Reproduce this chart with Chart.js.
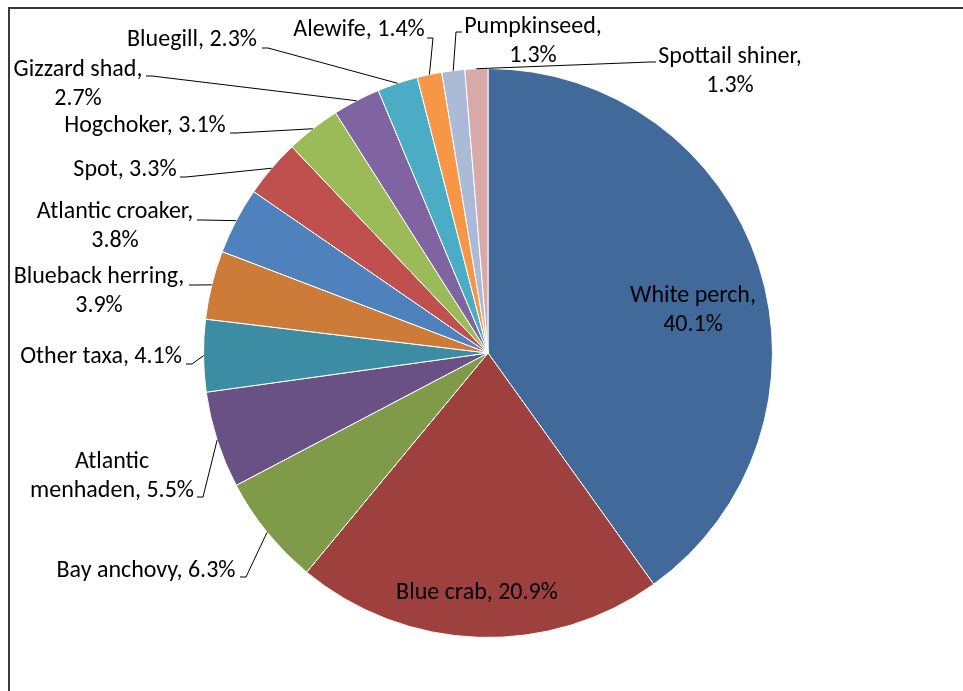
<!DOCTYPE html>
<html>
<head>
<meta charset="utf-8">
<script src="https://cdn.jsdelivr.net/npm/chart.js@4/dist/chart.umd.min.js"></script>
<style>
  html, body { margin:0; padding:0; background:#fff; }
  canvas { display:block; }
</style>
</head>
<body>
<canvas id="pie" width="963" height="691"></canvas>
<script>
// catch composition by taxon, percent of total
const taxa = ["White perch","Blue crab","Bay anchovy","Atlantic menhaden","Other taxa","Blueback herring",
  "Atlantic croaker","Spot","Hogchoker","Gizzard shad","Bluegill","Alewife","Pumpkinseed","Spottail shiner"];
const percents = [40.1, 20.9, 6.3, 5.5, 4.1, 3.9, 3.8, 3.3, 3.1, 2.7, 2.3, 1.4, 1.3, 1.3];
const sliceColors = ["#416A9B","#9D403E","#7F9A48","#695185","#3C8DA3","#CC7B38",
  "#4F81BD","#C0504D","#9BBB59","#8064A2","#4BACC6","#F79646","#AABAD7","#D9AAA9"];

// label placement: text block centre, words on first line (0 = one line), leader start (null = inside)
const labelSpots = [
  {x:693, y:310, split:2, lead:null},
  {x:477, y:593, split:0, lead:null},
  {x:146, y:571, split:0, lead:[240,577]},
  {x:112, y:476, split:1, lead:[197,497]},
  {x:101, y:357, split:0, lead:[186,364]},
  {x:99,  y:291, split:2, lead:[189,285]},
  {x:115, y:226, split:2, lead:[197,220]},
  {x:125, y:170, split:0, lead:[180,177]},
  {x:145, y:126, split:0, lead:[230,133]},
  {x:78,  y:84,  split:2, lead:[146,76]},
  {x:192, y:40,  split:0, lead:[262,48]},
  {x:359, y:30,  split:0, lead:[427,38]},
  {x:533, y:41,  split:1, lead:[462,32]},
  {x:730, y:71,  split:2, lead:[656,62]}
];

const FONT = '24px Carlito, Lato, sans-serif';
const LINE_H = 29;

const labelPlugin = {
  id: 'sliceLabels',
  beforeDraw(chart) {
    // outer frame, open at right and bottom
    const c = chart.ctx;
    c.save();
    c.strokeStyle = '#3a3a3a';
    c.lineWidth = 2;
    c.beginPath();
    c.moveTo(9, 691);
    c.lineTo(9, 8);
    c.lineTo(963, 8);
    c.stroke();
    c.restore();
  },
  afterDatasetsDraw(chart) {
    const c = chart.ctx;
    const arcs = chart.getDatasetMeta(0).data;
    c.save();
    c.font = FONT;
    c.fillStyle = '#000';
    c.textAlign = 'center';
    c.textBaseline = 'middle';
    arcs.forEach((arc, i) => {
      const spot = labelSpots[i];
      const words = (taxa[i] + ', ' + percents[i].toFixed(1) + '%').split(' ');
      const lines = spot.split ? [words.slice(0, spot.split).join(' '), words.slice(spot.split).join(' ')] : [words.join(' ')];
      const top = spot.y - (lines.length - 1) * LINE_H / 2;
      lines.forEach((t, k) => c.fillText(t, spot.x, top + k * LINE_H));

      if (spot.lead) {
        const p = arc.getProps(['x','y','startAngle','endAngle','outerRadius'], true);
        const mid = (p.startAngle + p.endAngle) / 2;
        const ex = p.x + Math.cos(mid) * p.outerRadius;
        const ey = p.y + Math.sin(mid) * p.outerRadius;
        const [sx, sy] = spot.lead;
        const dir = ex > sx ? 1 : -1;
        c.strokeStyle = '#000';
        c.lineWidth = 1;
        c.beginPath();
        c.moveTo(sx, sy);
        c.lineTo(sx + dir * 6, sy);
        c.lineTo(ex, ey);
        c.stroke();
      }
    });
    c.restore();
  }
};

new Chart(document.getElementById('pie'), {
  type: 'pie',
  data: {
    labels: taxa,
    datasets: [{
      data: percents,
      backgroundColor: sliceColors,
      borderColor: '#ffffff',
      borderWidth: 1
    }]
  },
  options: {
    responsive: false,
    animation: false,
    layout: { padding: { top: 68, bottom: 53, left: 203, right: 190 } },
    plugins: {
      legend: { display: false },
      tooltip: { enabled: false }
    }
  },
  plugins: [labelPlugin]
});
</script>
</body>
</html>
